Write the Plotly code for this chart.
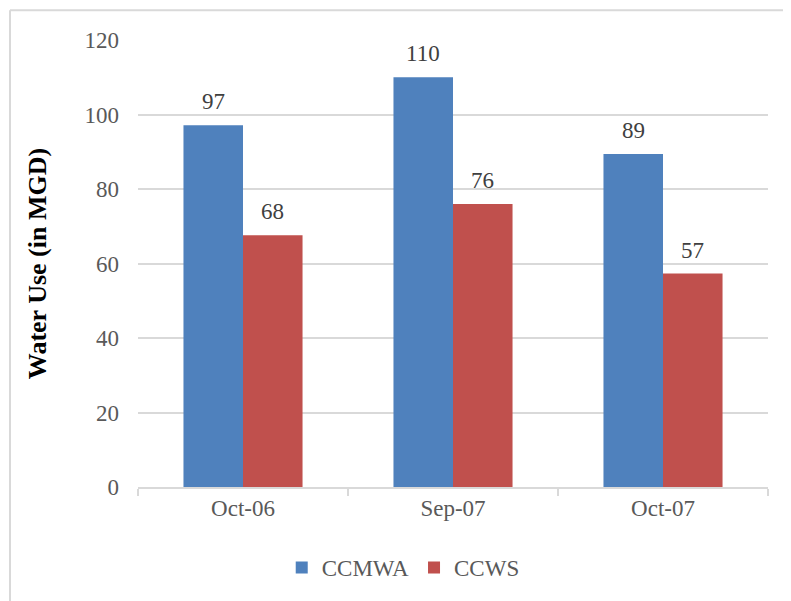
import plotly.graph_objects as go

categories = ["Oct-06", "Sep-07", "Oct-07"]
ccmwa = [97.1, 110.0, 89.4]
ccws = [67.6, 76.0, 57.3]
y_ticks = [0, 20, 40, 60, 80, 100, 120]

FONT = "Liberation Serif, Times New Roman, serif"
BARGAP = 0.433
series = [("CCMWA", ccmwa, "#4F81BD"), ("CCWS", ccws, "#C0504D")]

fig = go.Figure()
for name, vals, color in series:
    fig.add_trace(go.Bar(
        x=categories, y=vals, name=name,
        marker=dict(color=color, line=dict(width=0)),
    ))

# data labels above bars, placed at each bar's centre
bar_w = (1 - BARGAP) / len(series)
annotations = []
for k, (name, vals, color) in enumerate(series):
    offset = (k - (len(series) - 1) / 2) * bar_w
    for i, v in enumerate(vals):
        annotations.append(dict(
            x=i + offset, y=v, xref="x", yref="y",
            text=f"{v:.0f}", showarrow=False,
            yanchor="bottom", yshift=9,
            font=dict(family=FONT, size=23, color="#404040"),
        ))

fig.update_layout(
    width=783, height=593,
    margin=dict(l=130, r=23, t=32, b=110),
    paper_bgcolor="white", plot_bgcolor="white",
    barmode="group", bargap=BARGAP, bargroupgap=0,
    font=dict(family=FONT, size=23, color="#595959"),
    showlegend=True,
    legend=dict(orientation="h", x=0.421, xanchor="center", y=-0.18, yanchor="middle",
                font=dict(family=FONT, size=23, color="#595959"),
                traceorder="normal"),
    annotations=annotations,
    xaxis=dict(
        type="category", showgrid=False,
        showline=True, linecolor="#D9D9D9", linewidth=1.5,
        ticks="outside", tickson="boundaries", ticklen=7, tickcolor="#D9D9D9", tickwidth=1.5,
        tickfont=dict(family=FONT, size=23, color="#595959"),
    ),
    yaxis=dict(
        range=[0, 120], tickvals=y_ticks, ticktext=[str(v) for v in y_ticks],
        showgrid=True, gridcolor="#D9D9D9", gridwidth=1.5,
        zeroline=False, showline=False, ticks="",
        ticklabelstandoff=18,
        tickfont=dict(family=FONT, size=23, color="#595959"),
        title=dict(text="<b>Water Use (in MGD)</b>", standoff=30,
                   font=dict(family=FONT, size=26, color="black")),
    ),
)

# chart border (top and left visible in the cropped view)
fig.add_shape(type="line", xref="paper", yref="paper",
              x0=-0.2032, x1=1.1, y0=1.0665, y1=1.0665,
              line=dict(color="#D9D9D9", width=2))
fig.add_shape(type="line", xref="paper", yref="paper",
              x0=-0.2032, x1=-0.2032, y0=-0.5, y1=1.0665,
              line=dict(color="#D9D9D9", width=2))

fig.write_html("out.html")
